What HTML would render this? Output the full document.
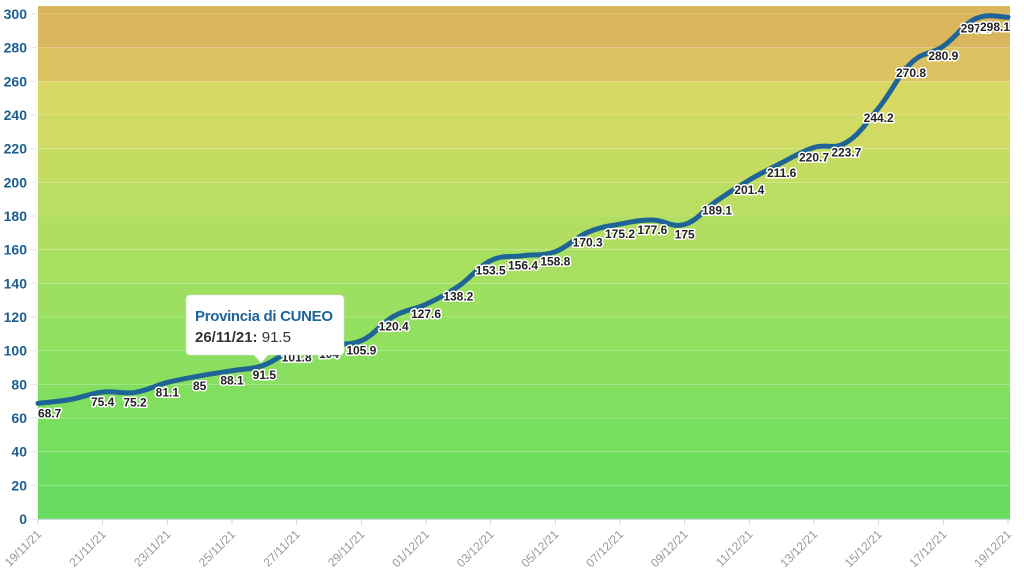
<!DOCTYPE html>
<html><head><meta charset="utf-8"><style>
html,body{margin:0;padding:0;background:#fff;}
svg{display:block;font-family:"Liberation Sans",sans-serif;}
</style></head><body>
<svg id="c" width="1024" height="582" xmlns="http://www.w3.org/2000/svg"></svg>
<script>
const svg=document.getElementById('c');
const X0=38,X1=1008,Y0=519,Y300=14;
const yv=v=>Y0-(Y0-Y300)*v/300;
const xd=i=>X0+(X1-X0)*i/30;
let h='';
const bands=['#67dc5f','#6fdd5f','#78de5f','#81de5f','#8adf60','#93df60','#9ddf60','#a7df61','#b1dd61','#bbdd62','#c5dc62','#cfdb63','#d8d964','#dcc160','#d9b65d'];
for(let b=0;b<15;b++){let top=yv(b*20+20),bot=yv(b*20); if(b==14)top=6;
 h+=`<rect x="${X0}" y="${top}" width="${X1+2-X0}" height="${bot-top}" fill="${bands[b]}"/>`;}
for(let v=0;v<=300;v+=20){const y=yv(v);
 h+=`<line x1="${X0}" x2="${X1+2}" y1="${y}" y2="${y}" stroke="rgba(255,255,255,0.2)" stroke-width="1"/>`;
 h+=`<line x1="31" x2="37" y1="${y}" y2="${y}" stroke="#e6e6e6" stroke-width="1"/>`;
 h+=`<text x="27" y="${y+5}" text-anchor="end" font-size="14" font-weight="bold" fill="#1d5f8c">${v}</text>`;}
h+=`<line x1="${X0}" x2="${X1+2}" y1="${Y0+0.5}" y2="${Y0+0.5}" stroke="#ccd6eb"/>`;
const dates=['19/11/21','21/11/21','23/11/21','25/11/21','27/11/21','29/11/21','01/12/21','03/12/21','05/12/21','07/12/21','09/12/21','11/12/21','13/12/21','15/12/21','17/12/21','19/12/21'];
dates.forEach((d,k)=>{const x=xd(k*2);
 h+=`<line x1="${x}" x2="${x}" y1="${Y0}" y2="${Y0+6}" stroke="#ccd6eb"/>`;
 h+=`<text x="${x+4}" y="${Y0+16}" transform="rotate(-45 ${x+4} ${Y0+16})" text-anchor="end" font-size="12" fill="#999">${d}</text>`;});
const vals=[68.7,71,75.4,75.2,81.1,85,88.1,91.5,101.8,104,105.9,120.4,127.6,138.2,153.5,156.4,158.8,170.3,175.2,177.6,175,189.1,201.4,211.6,220.7,223.7,244.2,270.8,280.9,297.2,298.1];
const P=vals.map((v,i)=>[xd(i),yv(v)]);
let d=`M${P[0][0]},${P[0][1]}`;
for(let i=0;i<P.length-1;i++){
 const p0=P[Math.max(0,i-1)],p1=P[i],p2=P[i+1],p3=P[Math.min(P.length-1,i+2)];
 const t=0.2;
 const c1=[p1[0]+(p2[0]-p0[0])*t,p1[1]+(p2[1]-p0[1])*t];
 const c2=[p2[0]-(p3[0]-p1[0])*t,p2[1]-(p3[1]-p1[1])*t];
 d+=` C${c1[0]},${c1[1]} ${c2[0]},${c2[1]} ${p2[0]},${p2[1]}`;}
h+=`<path d="${d}" fill="none" stroke="#1f6496" stroke-width="5" stroke-linecap="round"/>`;
vals.forEach((v,i)=>{if(i==1)return;const x=P[i][0],y=P[i][1]+14;
 let anchor='middle';let xx=x; if(i==0){anchor='start';xx=x;} if(i==30){anchor='end';xx=x+2;}
 h+=`<text x="${xx}" y="${y}" text-anchor="${anchor}" font-size="12" font-weight="bold" fill="#222" stroke="#fff" stroke-width="3" stroke-linejoin="round" paint-order="stroke">${v}</text>`;});
h+=`<g><path d="M190,295 h150 a4,4 0 0 1 4,4 v52 a4,4 0 0 1 -4,4 h-72 l-7,8 l-7,-8 h-64 a4,4 0 0 1 -4,-4 v-52 a4,4 0 0 1 4,-4z" fill="#fff" stroke="#ddd" stroke-width="0.5"/>
<text x="195" y="321" font-size="15" font-weight="bold" fill="#1f6496" textLength="138">Provincia di CUNEO</text>
<text x="195" y="342" font-size="15" fill="#333"><tspan font-weight="bold">26/11/21:</tspan> 91.5</text></g>`;
svg.innerHTML=h;
</script>
</body></html>
